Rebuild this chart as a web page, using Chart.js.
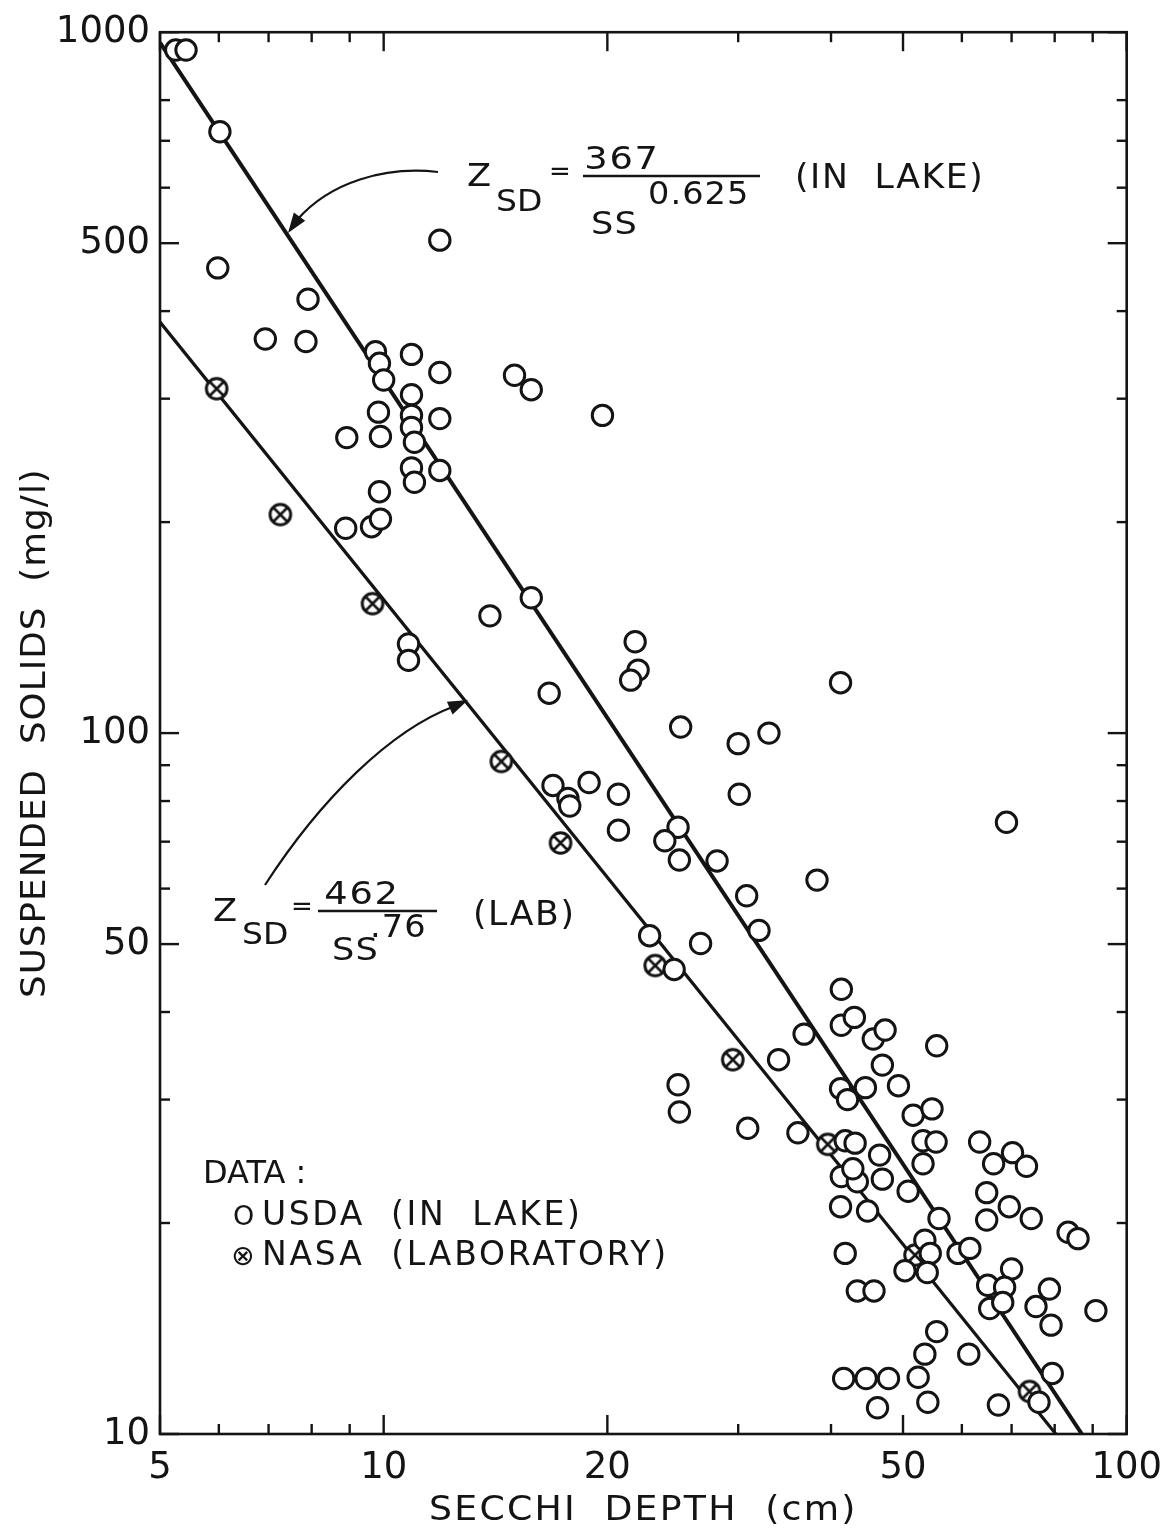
<!DOCTYPE html>
<html>
<head>
<meta charset="utf-8">
<script src="https://cdn.jsdelivr.net/npm/chart.js@4.4.1/dist/chart.umd.min.js"></script>
<style>
  html, body { margin: 0; padding: 0; background: #fff; }
  #wrap { width: 1174px; height: 1529px; }
</style>
</head>
<body>
<div id="wrap"><canvas id="c" width="1174" height="1529"></canvas></div>
<script>
// Secchi depth (cm) against suspended solids (mg/l)
const usdaDepth = [
  5.25, 5.42, 6.02, 5.98, 7.91, 6.93, 7.86, 11.9, 9.75, 9.87,
  10.0, 10.9, 11.9, 15.0, 15.8, 19.7, 10.9, 9.84, 10.9, 11.9,
  8.92, 9.90, 10.9, 11.0, 10.9, 11.0, 11.9, 9.87, 8.89, 9.63,
  9.90, 13.9, 15.8, 10.8, 10.8, 21.8, 22.0, 21.5, 16.7, 41.2,
  25.1, 30.0, 33.0, 30.1, 16.9, 17.7, 17.8, 18.9, 20.7, 20.7,
  24.9, 23.9, 25.0, 28.1, 38.3, 30.8, 32.0, 22.8, 26.7, 24.6,
  68.9, 24.9, 25.0, 34.0, 30.9, 36.1, 36.8, 41.3, 41.3, 43.0,
  45.6, 47.3, 55.5, 46.9, 49.3, 41.2, 44.5, 42.1, 51.6, 54.7,
  41.8, 43.1, 46.5, 53.2, 55.4, 53.2, 63.4, 66.2, 70.2, 73.3,
  41.3, 43.4, 46.9, 50.8, 64.8, 69.5, 41.2, 44.8, 64.8, 74.4,
  55.9, 83.4, 86.0, 41.8, 53.5, 54.4, 50.3, 53.9, 59.3, 61.5,
  70.0, 65.0, 68.5, 65.4, 68.1, 43.4, 45.7, 78.7, 75.5, 79.1,
  90.9, 55.5, 53.5, 61.3, 41.6, 44.6, 47.8, 52.4, 79.4, 76.2,
  46.2, 54.0, 67.2, 42.8
];
const usdaSolids = [
  943, 943, 721, 461, 416, 365, 362, 505, 350, 337,
  319, 347, 327, 324, 309, 284, 304, 287, 284, 281,
  264, 265, 273, 260, 239, 228, 237, 221, 196, 197,
  202, 147, 156, 134, 127, 135, 123, 119, 114, 118,
  102, 96.6, 100, 81.8, 84.2, 80.7, 78.7, 85.0, 81.8, 72.7,
  73.4, 70.2, 65.9, 65.7, 61.7, 58.6, 52.3, 51.4, 50.1, 46.0,
  74.6, 31.5, 28.8, 34.2, 27.3, 26.9, 37.2, 43.1, 38.3, 39.3,
  36.6, 37.7, 35.8, 33.6, 31.4, 31.1, 31.2, 30.0, 28.5, 29.1,
  26.2, 26.0, 25.0, 26.2, 26.1, 24.3, 26.1, 24.3, 25.2, 24.1,
  23.3, 22.9, 23.1, 22.2, 22.1, 21.1, 21.1, 20.8, 20.2, 20.3,
  20.3, 19.4, 19.0, 18.1, 18.9, 18.1, 17.1, 17.0, 18.1, 18.4,
  17.2, 16.3, 16.2, 15.1, 15.4, 16.0, 16.0, 16.1, 15.2, 14.3,
  15.0, 14.0, 13.0, 13.0, 12.0, 12.0, 12.0, 12.05, 12.2, 11.1,
  10.9, 11.1, 11.0, 23.9
];
const nasaDepth  = [5.96, 7.26, 9.66, 14.4, 17.3, 23.2, 29.5, 39.6, 51.9, 74.0];
const nasaSolids = [310, 205, 153, 91.1, 69.7, 46.6, 34.2, 25.9, 18.0, 11.5];

// Tick values
const xTickLabels = [5, 10, 20, 50, 100];
const xMinorTicks = [6, 7, 8, 9, 30, 40, 60, 70, 80, 90];
const yTickLabels = [10, 50, 100, 500, 1000];
const yMinorTicks = [20, 30, 40, 60, 70, 80, 90, 200, 300, 400, 600, 700, 800];

// Fitted relations Z_SD = a / SS^b  ->  [a, b]
const lakeFit = [367, 0.625];
const labFit  = [462, 0.76];

const X_MIN = 5, X_MAX = 100, Y_MIN = 10, Y_MAX = 1000;
const FONT = '"DejaVu Sans", "Liberation Sans", sans-serif';
const INK = '#141414';

// Straight line (on log-log axes) for a fitted relation, clipped to the axes
function fitLine([a, b]) {
  const ssAtLeft = Math.pow(a / X_MIN, 1 / b);
  const ssTop = Math.min(Y_MAX, ssAtLeft);
  return [ssTop, Y_MIN].map(ss => ({ x: a / Math.pow(ss, b), y: ss }));
}

// Open circle with an X, for the laboratory samples
function crossedCircle() {
  const s = 30, c = document.createElement('canvas');
  c.width = s; c.height = s;
  const g = c.getContext('2d');
  const r = 10.3;
  g.fillStyle = '#fff'; g.strokeStyle = INK; g.lineWidth = 3;
  g.beginPath(); g.arc(s / 2, s / 2, r, 0, Math.PI * 2); g.fill(); g.stroke();
  g.lineWidth = 2.6;
  const d = r * 0.7;
  g.beginPath();
  g.moveTo(s / 2 - d, s / 2 - d); g.lineTo(s / 2 + d, s / 2 + d);
  g.moveTo(s / 2 + d, s / 2 - d); g.lineTo(s / 2 - d, s / 2 + d);
  g.stroke();
  return c;
}

// Lettering: font size, horizontal stretch and letter spacing
function text(ctx, str, x, y, size, opt = {}) {
  ctx.save();
  ctx.translate(x, y);
  ctx.scale(opt.sx || 1, 1);
  ctx.font = `${size}px ${FONT}`;
  ctx.letterSpacing = (opt.spacing || 0) + 'px';
  ctx.textAlign = opt.align || 'left';
  ctx.textBaseline = opt.baseline || 'alphabetic';
  ctx.fillStyle = INK;
  ctx.fillText(str, 0, 0);
  ctx.restore();
}

function arrowHead(ctx, tipX, tipY, fromX, fromY, len, half) {
  const ang = Math.atan2(tipY - fromY, tipX - fromX);
  ctx.beginPath();
  ctx.moveTo(tipX, tipY);
  ctx.lineTo(tipX - len * Math.cos(ang) + half * Math.sin(ang), tipY - len * Math.sin(ang) - half * Math.cos(ang));
  ctx.lineTo(tipX - len * Math.cos(ang) - half * Math.sin(ang), tipY - len * Math.sin(ang) + half * Math.cos(ang));
  ctx.closePath();
  ctx.fill();
}

const decor = {
  id: 'decor',
  afterDraw(chart) {
    const { ctx, chartArea: a, scales: { x, y } } = chart;
    ctx.save();
    ctx.strokeStyle = INK;
    ctx.fillStyle = INK;
    ctx.lineCap = 'butt';

    // frame
    ctx.lineWidth = 2.6;
    ctx.strokeRect(a.left, a.top, a.right - a.left, a.bottom - a.top);

    // inward ticks on all four sides
    ctx.lineWidth = 2.4;
    const seg = (x1, y1, x2, y2) => { ctx.beginPath(); ctx.moveTo(x1, y1); ctx.lineTo(x2, y2); ctx.stroke(); };
    const xt = (v, len) => { const p = x.getPixelForValue(v); seg(p, a.bottom, p, a.bottom - len); seg(p, a.top, p, a.top + len); };
    const yt = (v, len) => { const p = y.getPixelForValue(v); seg(a.left, p, a.left + len, p); seg(a.right, p, a.right - len, p); };
    xTickLabels.forEach(v => xt(v, 19));
    xMinorTicks.forEach(v => xt(v, 10));
    yTickLabels.forEach(v => yt(v, 19));
    yMinorTicks.forEach(v => yt(v, 10));

    // axis titles
    text(ctx, 'SECCHI  DEPTH  (cm)', (a.left + a.right) / 2, 1520, 33, { align: 'center', sx: 1.1, spacing: 2 });
    ctx.save();
    ctx.translate(33, (a.top + a.bottom) / 2);
    ctx.rotate(-Math.PI / 2);
    text(ctx, 'SUSPENDED  SOLIDS  (mg/l)', 0, 12, 33, { align: 'center', sx: 1.08, spacing: 1 });
    ctx.restore();

    // upper relation, with arrow to its line
    ctx.lineWidth = 2.2;
    ctx.beginPath();
    ctx.moveTo(438, 172);
    ctx.bezierCurveTo(385, 166, 330, 182, 297, 220);
    ctx.stroke();
    arrowHead(ctx, 288, 233, 300, 216, 20, 7);
    text(ctx, 'Z', 467, 186, 32, { sx: 1.1 });
    text(ctx, 'SD', 496, 211, 30, { sx: 1.1 });
    text(ctx, '=', 560, 180, 26, { align: 'center' });
    text(ctx, '367', 622, 169, 32, { align: 'center', sx: 1.15, spacing: 1.5 });
    ctx.lineWidth = 2.5;
    seg(583, 176, 760, 176);
    text(ctx, 'SS', 591, 234, 32, { sx: 1.1, spacing: 1 });
    text(ctx, '0.625', 648, 204, 32, { sx: 1.05, spacing: 1 });
    text(ctx, '(IN  LAKE)', 795, 188, 33, { sx: 1.05, spacing: 1.5 });

    // lower relation, with arrow to its line
    ctx.lineWidth = 2.2;
    ctx.beginPath();
    ctx.moveTo(265, 885);
    ctx.bezierCurveTo(320, 800, 390, 730, 455, 706);
    ctx.stroke();
    arrowHead(ctx, 468, 700, 450, 708, 20, 7);
    text(ctx, 'Z', 213, 921, 32, { sx: 1.1 });
    text(ctx, 'SD', 242, 944, 30, { sx: 1.1 });
    text(ctx, '=', 302, 915, 26, { align: 'center' });
    text(ctx, '462', 362, 904, 32, { align: 'center', sx: 1.15, spacing: 1.5 });
    ctx.lineWidth = 2.5;
    seg(318, 911, 437, 911);
    text(ctx, 'SS', 332, 960, 32, { sx: 1.1, spacing: 1 });
    text(ctx, '.76', 370, 937, 32, { sx: 1.05, spacing: 1 });
    text(ctx, '(LAB)', 473, 925, 33, { sx: 1.05, spacing: 1.5 });

    // key
    text(ctx, 'DATA :', 203, 1183, 32);
    text(ctx, 'O', 233, 1225, 27);
    text(ctx, 'USDA  (IN  LAKE)', 262, 1225, 33, { spacing: 2.6 });
    text(ctx, '\u2297', 231, 1265, 28);
    text(ctx, 'NASA  (LABORATORY)', 262, 1265, 33, { spacing: 2.8 });

    ctx.restore();
  }
};

const circleBase = {
  pointStyle: 'circle',
  pointRadius: 10.2,
  pointBorderWidth: 3,
  pointBackgroundColor: '#fff',
  pointBorderColor: INK,
  showLine: false
};

new Chart(document.getElementById('c'), {
  type: 'scatter',
  data: {
    datasets: [
      Object.assign({
        label: 'USDA (IN LAKE)',
        data: usdaDepth.map((d, i) => ({ x: d, y: usdaSolids[i] }))
      }, circleBase),
      {
        label: 'NASA (LABORATORY)',
        data: nasaDepth.map((d, i) => ({ x: d, y: nasaSolids[i] })),
        pointStyle: crossedCircle(),
        showLine: false
      },
      {
        label: 'In lake fit',
        data: fitLine(lakeFit),
        showLine: true, pointRadius: 0,
        borderColor: INK, borderWidth: 4, fill: false
      },
      {
        label: 'Laboratory fit',
        data: fitLine(labFit),
        showLine: true, pointRadius: 0,
        borderColor: INK, borderWidth: 3.2, fill: false
      }
    ]
  },
  options: {
    responsive: false,
    animation: false,
    devicePixelRatio: 1,
    layout: { padding: { top: 25, right: 41, left: 0, bottom: 0 } },
    plugins: { legend: { display: false }, tooltip: { enabled: false } },
    scales: {
      x: {
        type: 'logarithmic', min: X_MIN, max: X_MAX, position: 'bottom',
        grid: { display: false, drawTicks: false }, border: { display: false },
        afterFit: s => { s.height = 95; },
        afterBuildTicks: s => { s.ticks = xTickLabels.map(v => ({ value: v })); },
        ticks: {
          autoSkip: false, maxRotation: 0, minRotation: 0, padding: 12,
          color: INK, font: { family: FONT, size: 37 },
          callback: v => String(v)
        }
      },
      y: {
        type: 'logarithmic', min: Y_MIN, max: Y_MAX, position: 'left',
        grid: { display: false, drawTicks: false }, border: { display: false },
        afterFit: s => { s.width = 160; },
        afterBuildTicks: s => { s.ticks = yTickLabels.map(v => ({ value: v })); },
        ticks: {
          autoSkip: false, padding: 10,
          color: INK, font: { family: FONT, size: 37 },
          callback: v => String(v)
        }
      }
    }
  },
  plugins: [decor]
});
</script>
</body>
</html>
